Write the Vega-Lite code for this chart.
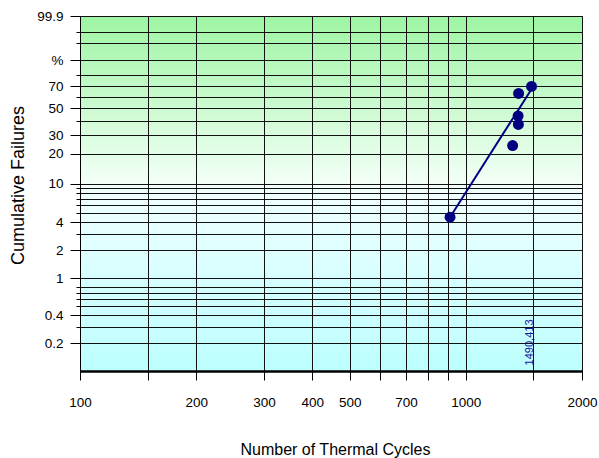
{
  "$schema": "https://vega.github.io/schema/vega-lite/v6.json",
  "width": 502,
  "height": 355,
  "autosize": {"type": "none"},
  "padding": {"left": 80, "top": 16, "right": 17, "bottom": 87},
  "background": "white",
  "view": {
    "fill": {"gradient": "linear", "x1": 0, "y1": 0, "x2": 0, "y2": 1,
      "stops": [
        {"offset": 0, "color": "#9ef5a3"},
        {"offset": 0.47, "color": "#f3fff7"},
        {"offset": 0.5, "color": "#f0ffff"},
        {"offset": 1, "color": "#bcfefe"}
      ]},
    "stroke": "#000",
    "strokeWidth": 1
  },
  "config": {"font": "Liberation Sans"},
  "datasets": {
    "points": [
      {"cycles": 910, "F": 4.5},
      {"cycles": 1322, "F": 24.0},
      {"cycles": 1368, "F": 37.1},
      {"cycles": 1366, "F": 43.7},
      {"cycles": 1370, "F": 63.4},
      {"cycles": 1480, "F": 69.8}
    ],
    "fit": [
      {"cycles": 910, "F": 4.5},
      {"cycles": 1478, "F": 67.0}
    ],
    "note": [
      {"cycles": 1490, "F": 0.115, "label": "1490,413"}
    ]
  },
  "layer": [
    {
      "data": {"name": "fit"},
      "transform": [{"calculate": "log(-log(1 - datum.F/100))", "as": "w"}],
      "mark": {"type": "line", "color": "#000080", "strokeWidth": 2},
      "encoding": {
        "x": {
          "field": "cycles", "type": "quantitative",
          "scale": {"type": "log", "domain": [100, 2000], "nice": false},
          "axis": {
            "title": "Number of Thermal Cycles",
            "values": [100, 150, 200, 300, 400, 500, 600, 700, 800, 900, 1000, 1490, 2000],
            "tickCount": 100,
            "labelExpr": "(datum.value == 100 || datum.value == 200 || datum.value == 300 || datum.value == 400 || datum.value == 500 || datum.value == 700 || datum.value == 1000 || datum.value == 2000) ? format(datum.value, 'd') : ''",
            "grid": true, "gridColor": "#111", "gridWidth": 1, "gridOpacity": 1,
            "domainColor": "#000", "domainWidth": 2.5,
            "tickColor": "#000", "tickWidth": 1, "tickSize": 9,
            "labelFontSize": 13.5, "labelColor": "#000", "labelPadding": 15,
            "labelOverlap": false, "labelFlush": false, "labelBound": false,
            "titleFontSize": 16, "titleFontWeight": "normal", "titleColor": "#000",
            "titleX": 255, "titleY": 83, "titleBaseline": "alphabetic"
          }
        },
        "y": {
          "field": "w", "type": "quantitative",
          "scale": {"domain": [-6.907255, 1.932645], "nice": false, "zero": false},
          "axis": {
            "title": "Cumulative Failures",
            "values": [1.932645, 1.52718, 1.254635, 0.834032, 0.475885, 0.185627, -0.087422, -0.366513, -0.671727, -1.03093, -1.49994, -2.250367, -2.361158, -2.484327, -2.623212, -2.782664, -2.970195, -3.198534, -3.491336, -3.901939, -4.600149, -4.824301, -4.958335, -5.112989, -5.295813, -5.519458, -5.807641, -6.213607],
            "tickCount": 100,
            "labelExpr": "test(/^(999|700|500|300|200|100|40|20|10|4|2)$/, '' + round(1000*(1-exp(-exp(datum.value))))) ? format(round(1000*(1-exp(-exp(datum.value))))/10, '~g') : (round(1000*(1-exp(-exp(datum.value)))) == 900 ? '%' : '')",
            "grid": true, "gridColor": "#111", "gridWidth": 1, "gridOpacity": 1,
            "domainColor": "#000", "domainWidth": 1,
            "tickColor": "#000", "tickWidth": 1,
            "tickSize": {"condition": {"test": "test(/^(999|900|700|500|300|200|100|40|20|10|4|2)$/, '' + round(1000*(1-exp(-exp(datum.value)))))", "value": 10}, "value": 4},
            "labelFontSize": 13.5, "labelColor": "#000", "labelPadding": 7,
            "labelOverlap": false, "labelFlush": false, "labelBound": false,
            "titleFontSize": 18, "titleFontWeight": "normal", "titleColor": "#000",
            "titleX": -57, "titleY": 169, "titleBaseline": "alphabetic", "titleAngle": 270, "titleAlign": "center"
          }
        }
      }
    },
    {
      "data": {"name": "points"},
      "transform": [{"calculate": "log(-log(1 - datum.F/100))", "as": "w"}],
      "mark": {"type": "point", "filled": true, "shape": "circle", "size": 120, "color": "#000080", "opacity": 1},
      "encoding": {
        "x": {"field": "cycles", "type": "quantitative"},
        "y": {"field": "w", "type": "quantitative"}
      }
    },
    {
      "data": {"name": "note"},
      "transform": [{"calculate": "log(-log(1 - datum.F/100))", "as": "w"}],
      "mark": {"type": "text", "angle": 270, "align": "left", "baseline": "alphabetic", "font": "Liberation Sans", "fontSize": 11, "color": "#1a1a9c"},
      "encoding": {
        "x": {"field": "cycles", "type": "quantitative"},
        "y": {"field": "w", "type": "quantitative"},
        "text": {"field": "label"}
      }
    }
  ]
}
